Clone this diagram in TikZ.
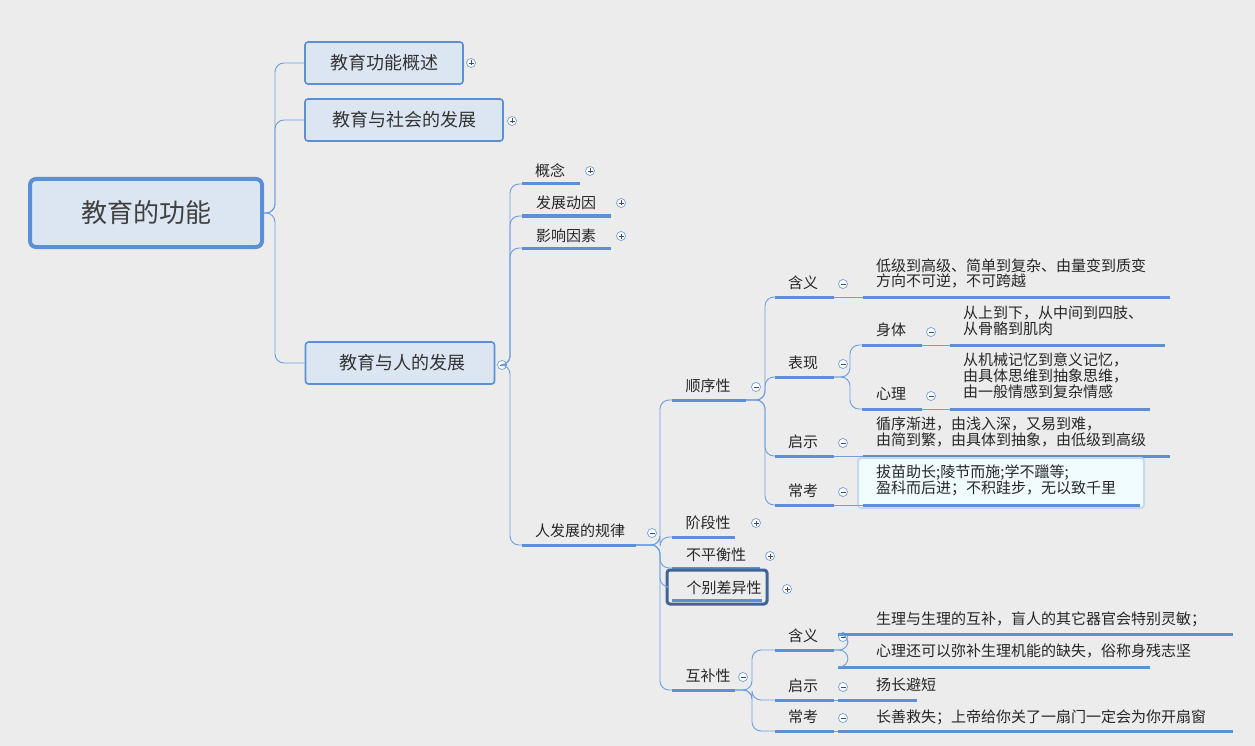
\documentclass[tikz,border=0pt]{standalone}
\usepackage{fontspec}
\setmainfont{Noto Sans CJK SC}
\usetikzlibrary{calc}
\begin{document}
\begin{tikzpicture}[x=1pt,y=-1pt,
  conn/.style={draw=lnk,line width=0.9pt,rounded corners=9pt},
  uline/.style={draw=ulc,line width=3pt},
  lbl/.style={font=\fontsize{15}{16}\selectfont,text=black!85,inner sep=0pt},
  big/.style={font=\fontsize{18}{20}\selectfont,text=black!80,inner sep=0pt},
  l1box/.style={draw=ulc,line width=1.6pt,fill=boxf,rounded corners=3pt}]
\definecolor{bgc}{HTML}{ECECEC}
\definecolor{lnk}{HTML}{6E9FE2}
\definecolor{ulc}{HTML}{5B8FD6}
\definecolor{boxf}{HTML}{DCE6F2}
\fill[bgc] (0,0) rectangle (1255,746);
\useasboundingbox (0,0) rectangle (1255,746);
\newcommand\tog[3]{\node[circle,draw=lnk,fill=white,line width=0.7pt,minimum size=9pt,inner sep=0pt] (#1) at (#2) {};
  \draw[black!70,line width=0.7pt] ($(#1)+(-2.5,0)$) -- ($(#1)+(2.5,0)$);
  \ifx#3p\draw[black!70,line width=0.7pt] ($(#1)+(0,-2.5)$) -- ($(#1)+(0,2.5)$);\fi}
\newcommand\uln[4]{\coordinate (#1l) at (#2,#4); \coordinate (#1r) at (#3,#4); \draw[uline] (#1l) -- (#1r);}
% root
\node[draw=ulc,line width=4pt,fill=boxf,rounded corners=6pt,minimum width=232pt,minimum height=68pt,font=\fontsize{26}{28}\selectfont,text=black!75] (root) at (146,213) {教育的功能};
% level 1
\node[l1box,big,minimum width=158pt,minimum height=42pt] (a1) at (384,63) {教育功能概述};
\node[l1box,big,minimum width=198pt,minimum height=42pt] (a2) at (404,120) {教育与社会的发展};
\node[l1box,big,minimum width=189pt,minimum height=42pt] (a3) at (400,363) {\ 教育与人的发展};
\tog{p1}{471,63}{p}\tog{p2}{512,121}{p}\tog{p3}{502,365}{m}
\draw[conn] (root.east) -- (275,213) |- (a1.west);
\draw[conn] (root.east) -- (275,213) |- (a2.west);
\draw[conn] (root.east) -- (275,213) |- (a3.west);
% level 2
\uln{b1}{522}{580}{184}\node[lbl] (tb1) at (550,171) {概念};\tog{pb1}{590,171}{p}
\uln{b2}{522}{611}{216}\node[lbl] (tb2) at (566,203) {发展动因};\tog{pb2}{621,203}{p}
\uln{b3}{522}{611}{248}\node[lbl] (tb3) at (566,236) {影响因素};\tog{pb3}{621,236}{p}
\uln{b4}{522}{636}{545}\node[lbl] (tb4) at (580,531) {人发展的规律};\tog{pb4}{652,533}{m}
\foreach \c in {b1,b2,b3,b4}{\draw[conn] (p3.east) -- (510,365) |- (\c l);}
% level 3
\uln{c1}{672}{746}{400}\node[lbl] (tc1) at (708,386) {顺序性};\tog{pc1}{756,387}{m}
\uln{c2}{672}{735}{537}\node[lbl] (tc2) at (708,523) {阶段性};\tog{pc2}{756,523}{p}
\uln{c3}{672}{760}{568}\node[lbl] (tc3) at (716,555) {不平衡性};\tog{pc3}{770,556}{p}
\node[draw=ulc!70!black,line width=3pt,rounded corners=3pt,minimum width=100pt,minimum height=34pt] (c4) at (717,587) {};
\draw[uline] (672,600) -- (762,600);
\node[lbl] (tc4) at (724,588) {个别差异性};\tog{pc4}{787,589}{p}
\uln{c5}{672}{735}{690}\node[lbl] (tc5) at (708,676) {互补性};\tog{pc5}{743,677}{m}
\foreach \c in {c1,c2,c3,c5}{\draw[conn] (b4r) -- (660,545) |- (\c l);}
\draw[conn] (b4r) -- (660,545) |- (c4.west);
% 顺序性 children
\foreach \n/\y/\t in {d1/297/含义,d2/377/表现,d3/456/启示,d4/505/常考}{
  \uln{\n}{775}{834}{\y}\node[lbl] (t\n) at (803,\y-14) {\t};\tog{p\n}{843,\y-13}{m}
  \draw[conn] (c1r) -- (765,400) |- (\n l);}
% 含义
\uln{e1}{863}{1170}{297}\draw[conn] (d1r) -- (e1l);
\node[lbl,align=left,anchor=north west,font=\fontsize{15}{15}\selectfont] (te1) at (876,259) {低级到高级、简单到复杂、由量变到质变\\方向不可逆，不可跨越};
% 表现
\uln{f1}{862}{922}{345}\node[lbl] (tf1) at (891,330) {身体};\tog{pf1}{931,332}{m}
\uln{f2}{862}{922}{409}\node[lbl] (tf2) at (891,394) {心理};\tog{pf2}{931,396}{m}
\draw[conn] (d2r) -- (850,377) |- (f1l);\draw[conn] (d2r) -- (850,377) |- (f2l);
\uln{g1}{950}{1165}{345}\draw[conn] (f1r) -- (g1l);
\node[lbl,align=left,anchor=north west,font=\fontsize{15}{16}\selectfont] (tg1) at (963,306) {从上到下，从中间到四肢、\\从骨骼到肌肉};
\uln{g2}{950}{1150}{409}\draw[conn] (f2r) -- (g2l);
\node[lbl,align=left,anchor=north west,font=\fontsize{15}{16}\selectfont] (tg2) at (963,353) {从机械记忆到意义记忆，\\由具体思维到抽象思维，\\由一般情感到复杂情感};
% 启示
\uln{e3}{863}{1170}{456}\draw[conn] (d3r) -- (e3l);
\node[lbl,align=left,anchor=north west,font=\fontsize{15}{16}\selectfont] (te3) at (876,417) {循序渐进，由浅入深，又易到难，\\由简到繁，由具体到抽象，由低级到高级};
% 常考
\node[draw=lnk!40,line width=2pt,fill=boxf!70!cyan!15,rounded corners=3pt,minimum width=286pt,minimum height=50pt] (e4) at (1001,483) {};
\uln{e4u}{863}{1140}{505}\draw[conn] (d4r) -- (e4ul);
\node[lbl,align=left,anchor=north west,font=\fontsize{15}{16}\selectfont] (te4) at (876,465) {拔苗助长;陵节而施;学不躐等;\\盈科而后进；不积跬步，无以致千里};
% 互补性 children
\foreach \n/\y/\t in {h1/650/含义,h2/700/启示,h3/731/常考}{
  \uln{\n}{775}{834}{\y}\node[lbl] (t\n) at (803,\y-14) {\t};\tog{p\n}{843,\y-13}{m}
  \draw[conn] (c5r) -- (752,690) |- (\n l);}
\uln{k1}{838}{1233}{634}\uln{k2}{838}{1150}{667}
\draw[conn] (h1r) -- (848,650) |- (k1l);\draw[conn] (h1r) -- (848,650) |- (k2l);
\node[lbl,anchor=west] (tk1) at (876,619) {生理与生理的互补，盲人的其它器官会特别灵敏；};
\node[lbl,anchor=west] (tk2) at (876,651) {心理还可以弥补生理机能的缺失，俗称身残志坚};
\uln{k3}{838}{917}{700}\draw[conn] (h2r) -- (k3l);
\node[lbl,anchor=west] (tk3) at (876,685) {扬长避短};
\uln{k4}{838}{1233}{731}\draw[conn] (h3r) -- (k4l);
\node[lbl,anchor=west] (tk4) at (876,717) {长善救失；上帝给你关了一扇门一定会为你开扇窗};
\end{tikzpicture}
\end{document}
